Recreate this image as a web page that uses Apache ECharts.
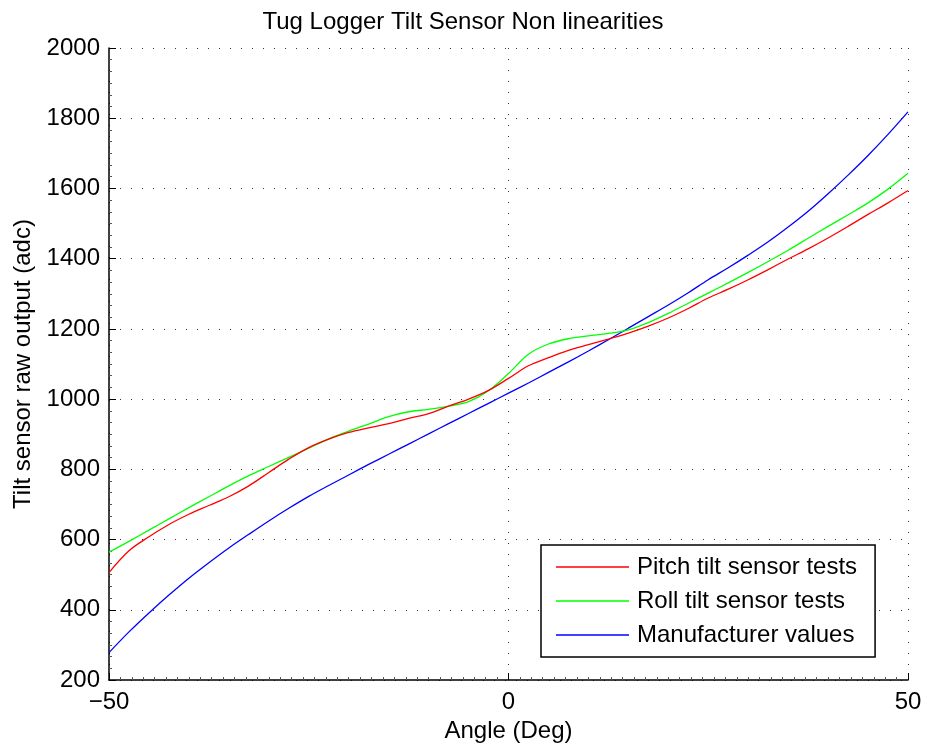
<!DOCTYPE html>
<html>
<head>
<meta charset="utf-8">
<title>Tug Logger Tilt Sensor Non linearities</title>
<script src="https://cdn.jsdelivr.net/npm/echarts@6/dist/echarts.min.js"></script>
<style>
  html, body { margin: 0; padding: 0; background: #fff; }
  #chart { width: 926px; height: 749px; }
</style>
</head>
<body>
<div id="chart"></div>
<script>
// Sample angles (degrees)
const angles = [
  -50, -47.5, -45, -42.5, -40, -37.5, -35, -32.5, -30, -27.5,
  -25, -22.5, -20, -17.5, -15, -12.5, -10, -7.5, -5, -2.5,
  0, 2.5, 5, 7.5, 10, 12.5, 15, 17.5, 20, 22.5,
  25, 27.5, 30, 32.5, 35, 37.5, 40, 42.5, 45, 47.5, 50
];

// Pitch tilt sensor tests (raw adc)
const pitchValues = [
  506, 568, 608, 643, 672, 697, 722, 753, 791, 829,
  862, 886, 905, 918, 930, 945, 959, 980, 1000, 1025,
  1059, 1095, 1118, 1139, 1155, 1171, 1188, 1208, 1231, 1258,
  1288, 1313, 1340, 1369, 1399, 1428, 1459, 1492, 1526, 1559, 1594
];

// Roll tilt sensor tests (raw adc)
const rollValues = [
  564, 595, 627, 659, 691, 722, 753, 782, 808, 834,
  860, 887, 909, 929, 950, 964, 971, 980, 993, 1024,
  1073, 1128, 1157, 1172, 1180, 1187, 1197, 1218, 1244, 1273,
  1302, 1331, 1361, 1392, 1424, 1458, 1492, 1525, 1559, 1598, 1643
];

// Manufacturer values (raw adc)
const manufacturerValues = [
  278, 337, 391, 442, 490, 534, 576, 615, 653, 689,
  723, 754, 784, 814, 843, 872, 901, 930, 959, 988,
  1017, 1046, 1076, 1106, 1137, 1169, 1202, 1235, 1268, 1303,
  1340, 1374, 1410, 1448, 1490, 1535, 1585, 1638, 1694, 1754, 1818
];

const seriesNames = ['Pitch tilt sensor tests', 'Roll tilt sensor tests', 'Manufacturer values'];
const seriesColors = ['#ff0000', '#00ff00', '#0000ff'];

const FONT = '"Liberation Sans", Arial, Helvetica, sans-serif';

function pairs(values) {
  return angles.map((a, i) => [a, values[i]]);
}

const chart = echarts.init(document.getElementById('chart'), null, { renderer: 'canvas' });

const gridDots = { color: '#333', width: 1, type: [1, 10] };

chart.setOption({
  backgroundColor: '#fff',
  animation: false,
  title: {
    text: 'Tug Logger Tilt Sensor Non linearities',
    left: 'center',
    top: 10,
    padding: 0,
    textStyle: { fontFamily: FONT, fontSize: 24, fontWeight: 'normal', color: '#000' }
  },
  grid: { left: 109, right: 18, top: 48, bottom: 69, containLabel: false },
  legend: {
    orient: 'vertical',
    left: 541,
    top: 545,
    padding: [10, 18, 10, 15],
    icon: 'rect',
    itemWidth: 73,
    itemHeight: 1.5,
    itemGap: 10,
    borderColor: '#000',
    borderWidth: 1.5,
    backgroundColor: '#fff',
    textStyle: { fontFamily: FONT, fontSize: 24, lineHeight: 24, color: '#000', padding: [0, 0, 0, 3] },
    data: seriesNames
  },
  xAxis: {
    type: 'value',
    min: -50,
    max: 50,
    interval: 50,
    name: 'Angle (Deg)',
    nameLocation: 'middle',
    nameGap: 39,
    nameTextStyle: { fontFamily: FONT, fontSize: 24, color: '#000' },
    axisLine: { show: true, onZero: false, lineStyle: { color: '#000', width: 1.5 } },
    axisTick: { show: true, inside: true, length: 7, lineStyle: { color: '#000', width: 1 } },
    minorTick: { show: true, splitNumber: 35, length: 3, lineStyle: { color: '#555', width: 1 } },
    axisLabel: {
      fontFamily: FONT, fontSize: 24, color: '#000', margin: 10,
      formatter: v => String(v).replace('-', '\u2212')
    },
    splitLine: { show: true, lineStyle: gridDots }
  },
  yAxis: {
    type: 'value',
    min: 200,
    max: 2000,
    interval: 200,
    name: 'Tilt sensor raw output (adc)',
    nameLocation: 'middle',
    nameGap: 72,
    nameTextStyle: { fontFamily: FONT, fontSize: 24, color: '#000' },
    axisLine: { show: true, onZero: false, lineStyle: { color: '#000', width: 1.5 } },
    axisTick: { show: true, inside: true, length: 7, lineStyle: { color: '#000', width: 1 } },
    minorTick: { show: true, splitNumber: 6, length: 3, lineStyle: { color: '#555', width: 1 } },
    axisLabel: {
      fontFamily: FONT, fontSize: 24, color: '#000', margin: 9,
      formatter: v => String(v)
    },
    splitLine: { show: true, lineStyle: gridDots }
  },
  series: [pitchValues, rollValues, manufacturerValues].map((vals, i) => ({
    name: seriesNames[i],
    type: 'line',
    data: pairs(vals),
    smooth: 0.35,
    symbol: 'none',
    showSymbol: false,
    lineStyle: { color: seriesColors[i], width: 1.3 },
    itemStyle: { color: seriesColors[i] },
    emphasis: { disabled: true },
    z: 3 - i
  }))
});
</script>
</body>
</html>
